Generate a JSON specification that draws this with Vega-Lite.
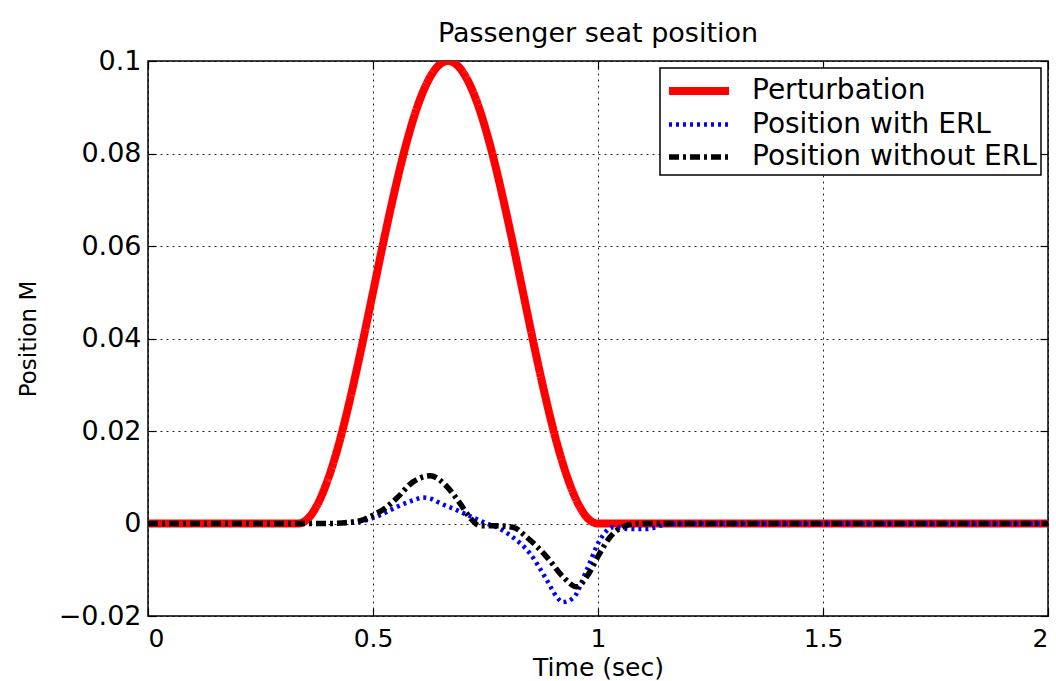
{
  "$schema": "https://vega.github.io/schema/vega-lite/v6.json",
  "width": 900,
  "height": 555,
  "autosize": "none",
  "padding": {"left": 148, "top": 61, "right": 8, "bottom": 65},
  "background": "white",
  "title": {"text": "Passenger seat position", "font": "DejaVu Sans", "fontSize": 27, "fontWeight": "normal", "color": "#000", "offset": -1, "anchor": "middle"},
  "config": {
    "view": {"stroke": "#000", "strokeWidth": 1.5},
    "axis": {
      "domain": false,
      "tickColor": "#000",
      "tickSize": -8,
      "tickWidth": 1.2,
      "labelFont": "DejaVu Sans",
      "labelFontSize": 27,
      "labelColor": "#000",
      "labelPadding": 15,
      "titleFont": "DejaVu Sans",
      "titleFontSize": 27,
      "titleFontWeight": "normal",
      "titleColor": "#000",
      "gridColor": "#000",
      "gridDash": [2, 4],
      "gridOpacity": 0.85,
      "gridWidth": 1
    },
    "legend": {
      "orient": "top-right",
      "offset": 7,
      "strokeColor": "#000",
      "strokeWidth": 1.5,
      "fillColor": "#fff",
      "padding": 4,
      "labelFont": "DejaVu Sans",
      "labelFontSize": 28,
      "labelColor": "#000",
      "labelLimit": 600,
      "labelOffset": 34,
      "symbolType": "M-2,0H2",
      "symbolSize": 900,
      "symbolOffset": 16,
      "rowPadding": -5,
      "cornerRadius": 0
    }
  },
  "data": {
    "values": [
      {"t": 0, "y": 0, "s": "Perturbation"},
      {"t": 0.3333, "y": 0, "s": "Perturbation"},
      {"t": 0.35, "y": 0.0006, "s": "Perturbation"},
      {"t": 0.375, "y": 0.0038, "s": "Perturbation"},
      {"t": 0.4, "y": 0.0096, "s": "Perturbation"},
      {"t": 0.425, "y": 0.0175, "s": "Perturbation"},
      {"t": 0.45, "y": 0.0273, "s": "Perturbation"},
      {"t": 0.475, "y": 0.0383, "s": "Perturbation"},
      {"t": 0.5, "y": 0.05, "s": "Perturbation"},
      {"t": 0.525, "y": 0.0617, "s": "Perturbation"},
      {"t": 0.55, "y": 0.0727, "s": "Perturbation"},
      {"t": 0.575, "y": 0.0825, "s": "Perturbation"},
      {"t": 0.6, "y": 0.0905, "s": "Perturbation"},
      {"t": 0.625, "y": 0.0962, "s": "Perturbation"},
      {"t": 0.65, "y": 0.0994, "s": "Perturbation"},
      {"t": 0.6667, "y": 0.1, "s": "Perturbation"},
      {"t": 0.6833, "y": 0.0994, "s": "Perturbation"},
      {"t": 0.7083, "y": 0.0962, "s": "Perturbation"},
      {"t": 0.7333, "y": 0.0905, "s": "Perturbation"},
      {"t": 0.7583, "y": 0.0825, "s": "Perturbation"},
      {"t": 0.7833, "y": 0.0727, "s": "Perturbation"},
      {"t": 0.8083, "y": 0.0617, "s": "Perturbation"},
      {"t": 0.8333, "y": 0.05, "s": "Perturbation"},
      {"t": 0.8583, "y": 0.0383, "s": "Perturbation"},
      {"t": 0.8833, "y": 0.0273, "s": "Perturbation"},
      {"t": 0.9083, "y": 0.0175, "s": "Perturbation"},
      {"t": 0.9333, "y": 0.0096, "s": "Perturbation"},
      {"t": 0.9583, "y": 0.0038, "s": "Perturbation"},
      {"t": 0.9833, "y": 0.0006, "s": "Perturbation"},
      {"t": 1.0, "y": 0, "s": "Perturbation"},
      {"t": 1.5, "y": 0, "s": "Perturbation"},
      {"t": 2.0, "y": 0, "s": "Perturbation"},

      {"t": 0, "y": 0, "s": "Position with ERL"},
      {"t": 0.3, "y": 0, "s": "Position with ERL"},
      {"t": 0.4, "y": 0, "s": "Position with ERL"},
      {"t": 0.44, "y": 0.0001, "s": "Position with ERL"},
      {"t": 0.48, "y": 0.0006, "s": "Position with ERL"},
      {"t": 0.516, "y": 0.0018, "s": "Position with ERL"},
      {"t": 0.553, "y": 0.0036, "s": "Position with ERL"},
      {"t": 0.589, "y": 0.005, "s": "Position with ERL"},
      {"t": 0.611, "y": 0.0056, "s": "Position with ERL"},
      {"t": 0.63, "y": 0.0053, "s": "Position with ERL"},
      {"t": 0.649, "y": 0.0044, "s": "Position with ERL"},
      {"t": 0.686, "y": 0.0029, "s": "Position with ERL"},
      {"t": 0.722, "y": 0.0013, "s": "Position with ERL"},
      {"t": 0.753, "y": 0, "s": "Position with ERL"},
      {"t": 0.775, "y": -0.0008, "s": "Position with ERL"},
      {"t": 0.811, "y": -0.003, "s": "Position with ERL"},
      {"t": 0.849, "y": -0.0065, "s": "Position with ERL"},
      {"t": 0.886, "y": -0.0122, "s": "Position with ERL"},
      {"t": 0.908, "y": -0.0158, "s": "Position with ERL"},
      {"t": 0.922, "y": -0.017, "s": "Position with ERL"},
      {"t": 0.945, "y": -0.0161, "s": "Position with ERL"},
      {"t": 0.975, "y": -0.01, "s": "Position with ERL"},
      {"t": 1.004, "y": -0.0036, "s": "Position with ERL"},
      {"t": 1.034, "y": -0.0008, "s": "Position with ERL"},
      {"t": 1.071, "y": -0.0012, "s": "Position with ERL"},
      {"t": 1.108, "y": -0.0012, "s": "Position with ERL"},
      {"t": 1.153, "y": -0.0002, "s": "Position with ERL"},
      {"t": 1.2, "y": 0, "s": "Position with ERL"},
      {"t": 1.6, "y": 0, "s": "Position with ERL"},
      {"t": 2.0, "y": 0, "s": "Position with ERL"},

      {"t": 0, "y": 0, "s": "Position without ERL"},
      {"t": 0.3, "y": 0, "s": "Position without ERL"},
      {"t": 0.4, "y": 0, "s": "Position without ERL"},
      {"t": 0.442, "y": 0.0002, "s": "Position without ERL"},
      {"t": 0.478, "y": 0.0008, "s": "Position without ERL"},
      {"t": 0.5, "y": 0.0018, "s": "Position without ERL"},
      {"t": 0.527, "y": 0.0033, "s": "Position without ERL"},
      {"t": 0.553, "y": 0.0055, "s": "Position without ERL"},
      {"t": 0.589, "y": 0.009, "s": "Position without ERL"},
      {"t": 0.627, "y": 0.0103, "s": "Position without ERL"},
      {"t": 0.664, "y": 0.008, "s": "Position without ERL"},
      {"t": 0.693, "y": 0.0044, "s": "Position without ERL"},
      {"t": 0.716, "y": 0.0012, "s": "Position without ERL"},
      {"t": 0.738, "y": -0.0005, "s": "Position without ERL"},
      {"t": 0.775, "y": -0.0005, "s": "Position without ERL"},
      {"t": 0.811, "y": -0.0008, "s": "Position without ERL"},
      {"t": 0.842, "y": -0.003, "s": "Position without ERL"},
      {"t": 0.886, "y": -0.0072, "s": "Position without ERL"},
      {"t": 0.922, "y": -0.0115, "s": "Position without ERL"},
      {"t": 0.953, "y": -0.0137, "s": "Position without ERL"},
      {"t": 0.975, "y": -0.0115, "s": "Position without ERL"},
      {"t": 1.004, "y": -0.0064, "s": "Position without ERL"},
      {"t": 1.027, "y": -0.0029, "s": "Position without ERL"},
      {"t": 1.056, "y": -0.0007, "s": "Position without ERL"},
      {"t": 1.09, "y": 0, "s": "Position without ERL"},
      {"t": 1.6, "y": 0, "s": "Position without ERL"},
      {"t": 2.0, "y": 0, "s": "Position without ERL"}
    ]
  },
  "layer": [
    {
      "mark": {"type": "line", "clip": true, "strokeCap": "butt", "strokeJoin": "round", "interpolate": "monotone"},
      "encoding": {
        "x": {"field": "t", "type": "quantitative", "scale": {"domain": [0, 2], "nice": false},
              "axis": {"orient": "bottom", "values": [0, 0.5, 1, 1.5, 2], "format": "~g", "labelFontSize": 25, "labelPadding": 18, "title": "Time (sec)", "titleFontSize": 25, "titlePadding": 4}},
        "y": {"field": "y", "type": "quantitative", "scale": {"domain": [-0.02, 0.1], "nice": false, "zero": false},
              "axis": {"orient": "left", "values": [-0.02, 0, 0.02, 0.04, 0.06, 0.08, 0.1], "format": "~g", "title": "Position M", "titleFontSize": 23, "titlePadding": 18}},
        "color": {"field": "s", "type": "nominal", "title": null,
                  "scale": {"domain": ["Perturbation", "Position with ERL", "Position without ERL"], "range": ["#ff0000", "#0000ff", "#000000"]}},
        "strokeDash": {"field": "s", "type": "nominal", "title": null,
                  "scale": {"domain": ["Perturbation", "Position with ERL", "Position without ERL"], "range": [[1, 0], [3, 4], [10, 4, 3, 4]]}},
        "strokeWidth": {"field": "s", "type": "nominal", "title": null,
                  "scale": {"type": "ordinal", "domain": ["Perturbation", "Position with ERL", "Position without ERL"], "range": [8, 4.5, 5.5]}}
      }
    },
    {
      "mark": {"type": "line", "opacity": 0},
      "encoding": {
        "x": {"field": "t", "type": "quantitative",
              "axis": {"orient": "top", "values": [0, 0.5, 1, 1.5, 2], "labels": false, "grid": false, "title": null}},
        "y": {"field": "y", "type": "quantitative",
              "axis": {"orient": "right", "values": [-0.02, 0, 0.02, 0.04, 0.06, 0.08, 0.1], "labels": false, "grid": false, "title": null}}
      }
    }
  ],
  "resolve": {"axis": {"x": "independent", "y": "independent"}}
}
